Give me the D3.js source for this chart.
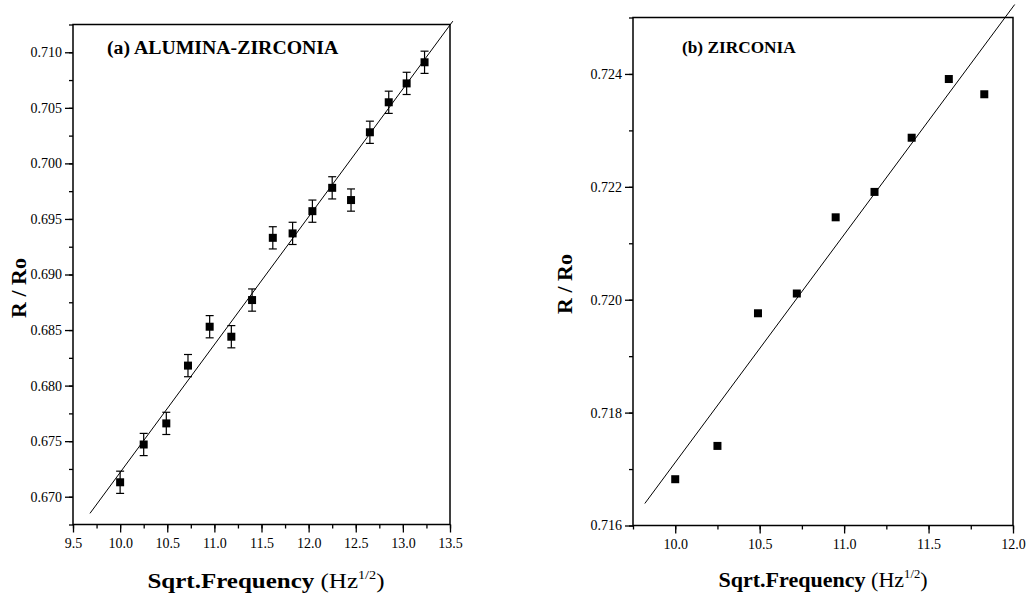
<!DOCTYPE html>
<html><head><meta charset="utf-8">
<script src="https://cdn.jsdelivr.net/npm/d3@7"></script>
<style>body{margin:0;background:#fff}svg{display:block}text{font-family:"Liberation Serif","Times New Roman",serif;fill:#000}</style>
</head><body>
<svg id="c" width="1032" height="596"></svg>
<script>
// Panel (a) ALUMINA-ZIRCONIA
const xA = [10.0, 10.25, 10.49, 10.72, 10.95, 11.18, 11.40, 11.62, 11.83, 12.04, 12.25, 12.45, 12.65, 12.85, 13.04, 13.23];
const yA = [0.6713, 0.6747, 0.6766, 0.6818, 0.6853, 0.6844, 0.6877, 0.6933, 0.6937, 0.6957, 0.6978, 0.6967, 0.7028, 0.7055, 0.7072, 0.7091];
const errA = [0.001, 0.001, 0.001, 0.001, 0.001, 0.001, 0.001, 0.001, 0.001, 0.001, 0.001, 0.001, 0.001, 0.001, 0.001, 0.001];
const fitAx = [9.68, 13.53];
const fitAy = [0.6685, 0.7128];
const xTicksA = [9.5, 10.0, 10.5, 11.0, 11.5, 12.0, 12.5, 13.0, 13.5];
const yTicksA = [0.670, 0.675, 0.680, 0.685, 0.690, 0.695, 0.700, 0.705, 0.710];

// Panel (b) ZIRCONIA
const xB = [10.0, 10.25, 10.49, 10.72, 10.95, 11.18, 11.40, 11.62, 11.83];
const yB = [0.71682, 0.71741, 0.71976, 0.72011, 0.72146, 0.72191, 0.72287, 0.72391, 0.72364];
const fitBx = [9.82, 12.01];
const fitBy = [0.71639, 0.72523];
const xTicksB = [10.0, 10.5, 11.0, 11.5, 12.0];
const yTicksB = [0.716, 0.718, 0.720, 0.722, 0.724];

const svg = d3.select("#c");

function panel(o) {
  const x = d3.scaleLinear().domain(o.xDom).range([o.left, o.right]);
  const y = d3.scaleLinear().domain(o.yDom).range([o.bottom, o.top]);
  const g = svg.append("g");

  // minor ticks
  const xMinor = d3.range(o.xDom[0], o.xDom[1] + 1e-9, o.xMinorStep);
  const yMinor = d3.range(o.yDom[0], o.yDom[1] + 1e-9, o.yMinorStep);
  g.append("g").attr("transform", `translate(0,${o.bottom})`)
    .call(d3.axisBottom(x).tickValues(xMinor).tickSize(4).tickFormat(""))
    .call(a => a.select(".domain").remove())
    .selectAll("line").attr("stroke-width", 1.3);
  g.append("g").attr("transform", `translate(${o.left},0)`)
    .call(d3.axisLeft(y).tickValues(yMinor).tickSize(4).tickFormat(""))
    .call(a => a.select(".domain").remove())
    .selectAll("line").attr("stroke-width", 1.3);

  // major ticks
  const ax = g.append("g").attr("transform", `translate(0,${o.bottom})`)
    .call(d3.axisBottom(x).tickValues(o.xTicks).tickSize(8).tickPadding(6).tickFormat(d3.format(".1f")));
  ax.select(".domain").remove();
  ax.selectAll("line").attr("stroke-width", 1.3);
  ax.selectAll("text").style("font-size", "14px").style("font-family", '"Liberation Serif",serif').attr("fill", "#000");
  const ay = g.append("g").attr("transform", `translate(${o.left},0)`)
    .call(d3.axisLeft(y).tickValues(o.yTicks).tickSize(8).tickPadding(3).tickFormat(d3.format(".3f")));
  ay.select(".domain").remove();
  ay.selectAll("line").attr("stroke-width", 1.3);
  ay.selectAll("text").style("font-size", "14px").style("font-family", '"Liberation Serif",serif').attr("fill", "#000");

  // frame
  g.append("rect").attr("x", o.left).attr("y", o.top)
    .attr("width", o.right - o.left).attr("height", o.bottom - o.top)
    .attr("fill", "none").attr("stroke", "#000").attr("stroke-width", 1.5);

  // fit line
  g.append("line")
    .attr("x1", x(o.fitX[0])).attr("y1", y(o.fitY[0]))
    .attr("x2", x(o.fitX[1])).attr("y2", y(o.fitY[1]))
    .attr("stroke", "#000").attr("stroke-width", 1);

  const data = o.xs.map((v, i) => ({x: v, y: o.ys[i], e: o.err ? o.err[i] : 0}));

  // error bars
  if (o.err) {
    const eb = g.append("g").attr("stroke", "#000").attr("stroke-width", 1.2);
    data.forEach(d => {
      const cx = x(d.x), y1 = y(d.y - d.e), y2 = y(d.y + d.e);
      eb.append("line").attr("x1", cx).attr("x2", cx).attr("y1", y1).attr("y2", y2);
      eb.append("line").attr("x1", cx - 4).attr("x2", cx + 4).attr("y1", y1).attr("y2", y1);
      eb.append("line").attr("x1", cx - 4).attr("x2", cx + 4).attr("y1", y2).attr("y2", y2);
    });
  }

  // markers
  const s = o.marker;
  g.selectAll(null).data(data).join("rect")
    .attr("x", d => x(d.x) - s / 2).attr("y", d => y(d.y) - s / 2)
    .attr("width", s).attr("height", s).attr("fill", "#000");

  // panel title
  g.append("text").attr("x", o.titleX).attr("y", o.titleY)
    .style("font-size", o.titleSize + "px").style("font-weight", "bold").text(o.title);

  // y title
  g.append("text")
    .attr("transform", `translate(${o.yTitleX},${o.yTitleY}) rotate(-90)`)
    .attr("text-anchor", "middle")
    .style("font-size", "22px").style("font-weight", "bold").text("R / Ro");

  // x title
  const xt = g.append("text")
    .attr("transform", `translate(${o.xTitleX},${o.xTitleY}) scale(${o.xTitleScale},1)`)
    .attr("text-anchor", "middle").style("font-size", "21px");
  xt.append("tspan").style("font-weight", "bold").text("Sqrt.Frequency");
  xt.append("tspan").text(" (Hz");
  xt.append("tspan").attr("dy", -9).style("font-size", "12px").text("1/2");
  xt.append("tspan").attr("dy", 9).text(")");
}

panel({
  xDom: [9.5, 13.5], yDom: [0.6675, 0.7125],
  left: 73, right: 450, top: 24.5, bottom: 524.5,
  xMinorStep: 0.25, yMinorStep: 0.0025,
  xTicks: xTicksA, yTicks: yTicksA,
  xs: xA, ys: yA, err: errA, fitX: fitAx, fitY: fitAy, marker: 8,
  title: "(a) ALUMINA-ZIRCONIA", titleX: 107, titleY: 54, titleSize: 19.8,
  yTitleX: 26, yTitleY: 288,
  xTitleX: 266, xTitleY: 588, xTitleScale: 1.19
});

panel({
  xDom: [9.75, 12.0], yDom: [0.716, 0.725],
  left: 633, right: 1013, top: 17.5, bottom: 525.5,
  xMinorStep: 0.25, yMinorStep: 0.001,
  xTicks: xTicksB, yTicks: yTicksB,
  xs: xB, ys: yB, err: null, fitX: fitBx, fitY: fitBy, marker: 8,
  title: "(b) ZIRCONIA", titleX: 682, titleY: 53, titleSize: 17.3,
  yTitleX: 572, yTitleY: 284,
  xTitleX: 823, xTitleY: 587, xTitleScale: 1.05
});
</script>
</body></html>
